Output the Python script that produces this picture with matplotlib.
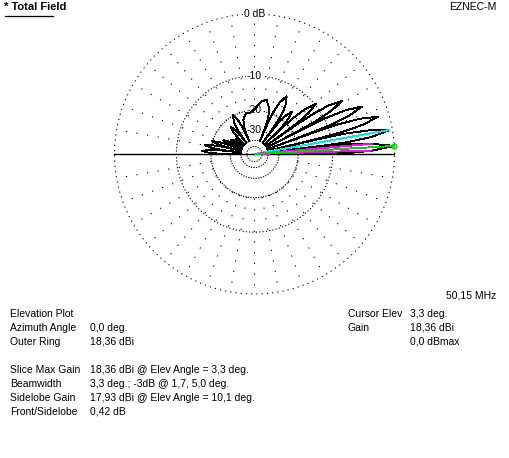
import numpy as np
import matplotlib
matplotlib.use("Agg")
import matplotlib.pyplot as plt
from matplotlib.lines import Line2D

# ---------------- data ----------------
# elevation angle (deg) and gain relative to slice max (dB)
elev_deg = [
    0.0, 0.26, 0.66, 1.65, 3.31, 4.96, 5.96, 6.36,
    6.62, 6.89, 7.29, 8.29, 9.96, 11.64, 12.65, 13.06,
    13.33, 13.60, 14.02, 15.04, 16.75, 18.49, 19.53, 19.96,
    20.24, 20.52, 20.94, 22.01, 23.80, 25.62, 26.72, 27.17,
    27.46, 27.76, 28.21, 29.34, 31.26, 33.21, 34.40, 34.88,
    35.20, 35.53, 36.02, 37.25, 39.36, 41.53, 42.86, 43.41,
    43.77, 44.14, 44.69, 46.11, 48.54, 51.10, 52.71, 53.37,
    53.81, 54.30, 55.20, 57.20, 61.00, 64.00, 65.80, 66.70,
    67.28, 67.98, 69.06, 72.03, 77.50, 82.55, 90.00,
    97.45, 101.46, 107.97, 110.94, 112.02,
    112.72, 113.39, 114.37, 116.20, 119.00, 122.60, 125.05, 125.74,
    126.19, 126.63, 127.29, 128.90, 131.46, 133.89, 135.31, 135.86,
    136.23, 137.14, 138.47, 140.64, 142.75, 143.98,
    144.80, 145.60, 146.79, 148.74, 150.66, 151.79,
    152.54, 152.83, 153.28, 154.38, 156.20, 157.99, 159.06, 159.48,
    159.76, 160.04, 160.47, 161.51, 163.25, 164.96, 165.98, 166.40,
    166.67, 166.94, 167.35, 168.36, 170.04, 171.71, 172.71, 173.11,
    173.38, 173.64, 174.04, 175.04, 176.69, 178.35, 179.34, 179.74,
    180.0,
]
gain_db = [
    -40.0, -12.0, -6.5, -3.0, 0.0, -3.0, -6.5, -12.0,
    -40.0, -12.4, -6.9, -2.9, -0.43, -2.9, -6.9, -12.4,
    -40.0, -13.4, -7.9, -3.9, -1.4, -3.9, -7.9, -13.4,
    -40.0, -15.0, -9.5, -5.5, -3.0, -5.5, -9.5, -15.0,
    -40.0, -17.4, -11.9, -7.9, -5.4, -7.9, -11.9, -17.4,
    -40.0, -21.8, -16.3, -12.3, -9.8, -12.3, -16.3, -21.8,
    -40.0, -27.6, -22.1, -18.1, -15.6, -18.1, -22.1, -27.6,
    -40.0, -24.9, -19.4, -15.4, -12.9, -15.4, -19.4, -24.9,
    -40.0, -27.9, -22.4, -18.4, -15.9, -16.6, -19.6,
    -21.1, -20.7, -23.2, -27.2, -32.7,
    -40.0, -31.7, -26.2, -22.2, -19.7, -22.2, -26.2, -31.7,
    -40.0, -35.3, -29.8, -25.8, -23.3, -25.8, -29.8, -35.3,
    -40.0, -36.5, -32.5, -30.0, -32.5, -36.5,
    -40.0, -34.5, -30.5, -28.0, -30.5, -34.5,
    -40.0, -36.3, -30.8, -26.8, -24.3, -26.8, -30.8, -36.3,
    -40.0, -31.7, -26.2, -22.2, -19.7, -22.2, -26.2, -31.7,
    -40.0, -29.6, -24.1, -20.1, -17.6, -20.1, -24.1, -29.6,
    -40.0, -28.7, -23.2, -19.2, -16.7, -19.2, -23.2, -28.7,
    -40.0,
]

ring_db = [0, -10, -20, -30, -40, -50]
ring_labels = ["0 dB", "-10", "-20", "-30"]
ring_label_db = [0, -10, -20, -30]

cursor_elev = 3.3
cursor_db = 0.0
bw_elev = [1.7, 5.0]
bw_db = -3.0
sidelobe_elev = 10.1
sidelobe_db = 17.93 - 18.36

info_left = [
    ("Elevation Plot", ""),
    ("Azimuth Angle", "0,0 deg."),
    ("Outer Ring", "18,36 dBi"),
    ("", ""),
    ("Slice Max Gain", "18,36 dBi @ Elev Angle = 3,3 deg."),
    ("Beamwidth", "3,3 deg.; -3dB @ 1,7, 5,0 deg."),
    ("Sidelobe Gain", "17,93 dBi @ Elev Angle = 10,1 deg."),
    ("Front/Sidelobe", "0,42 dB"),
]
info_right = [
    ("Cursor Elev", "3,3 deg."),
    ("Gain", "18,36 dBi"),
    ("", "0,0 dBmax"),
]
title_text = "* Total Field"
program_text = "EZNEC-M"
freq_text = "50,15 MHz"

# ---------------- figure ----------------
W, H = 510, 458
FONT = "Liberation Sans"
FS = 7.5
PX = 0.72  # one pixel in points
fig = plt.figure(figsize=(W / 100, H / 100), dpi=100)
fig.patch.set_facecolor("white")

cx, cy, R = 254.5, 154.0, 140.0
ax = fig.add_axes([(cx - R) / W, 1 - (cy + R) / H, 2 * R / W, 2 * R / H],
                  projection="polar")


def fwd(db):
    db = np.asarray(db, dtype=float)
    return 0.89 ** (-db / 2.0)


def inv(r):
    r = np.maximum(np.asarray(r, dtype=float), 1e-12)
    return -2.0 * np.log(r) / np.log(0.89)


ax.set_rscale("function", functions=(fwd, inv))
ax.set_rlim(-200, 0)
ax.set_xticks([])
ax.set_yticks([])
ax.grid(False)
ax.spines["polar"].set_visible(False)
ax.patch.set_alpha(0)

# rings
th = np.linspace(0, 2 * np.pi, 1441)
for db in ring_db:
    if db == 0:
        ls = (0, (1.2, 3.8))
    elif db == -10:
        ls = (0, (1.2, 2.0))
    else:
        ls = (0, (1.2, 1.2))
    ax.plot(th, np.full_like(th, db, dtype=float), color="black", lw=PX * 1.05,
            ls=ls, zorder=1, clip_on=False)

# spokes
for a in range(0, 360, 10):
    t = np.radians(a)
    ax.plot([t, t], [-20, 0], color="black", lw=PX * 1.05, ls=(0, (1.2, 9.0)),
            zorder=1, clip_on=False)

# horizon line
ax.plot([0, 0], [-200, 0], color="black", lw=PX * 1.4, zorder=3, clip_on=False)
ax.plot([np.pi, np.pi], [-200, 0], color="black", lw=PX * 1.4, zorder=3,
        clip_on=False)

# ring labels
for lab, db in zip(ring_labels, ring_label_db):
    ax.text(np.pi / 2, db, lab, ha="center", va="center", fontsize=FS,
            family=FONT, zorder=2,
            bbox=dict(facecolor="white", edgecolor="none", pad=0.4))

# pattern
ax.plot(np.radians(elev_deg), gain_db, color="black", lw=PX * 0.9, zorder=4,
        clip_on=False, antialiased=False)

# sidelobe, beamwidth and cursor lines
ax.plot([np.radians(sidelobe_elev)] * 2, [-200, sidelobe_db], color="#00e8e8",
        lw=PX * 0.9, zorder=5, clip_on=False, antialiased=False)
for e in bw_elev:
    ax.plot([np.radians(e)] * 2, [-200, bw_db], color="#ff00ff", lw=PX * 0.9,
            zorder=5, clip_on=False, antialiased=False)
ax.plot([np.radians(cursor_elev)] * 2, [-200, cursor_db], color="#00d800",
        lw=PX * 0.9, zorder=6, clip_on=False, antialiased=False)
ax.plot([np.radians(cursor_elev)], [cursor_db], marker="o", ms=3.5,
        mfc="none", mec="#00d800", mew=1.0, zorder=7, clip_on=False)


# ---------------- texts ----------------
def ftext(x, y, s, **kw):
    fig.text(x / W, 1 - y / H, s, fontsize=kw.pop("fs", FS), family=FONT,
             va="center", **kw)


ftext(4, 6.5, title_text, ha="left", fontweight="bold", fs=8.0)
fig.add_artist(Line2D([5 / W, 53 / W], [1 - 15.5 / H, 1 - 15.5 / H],
                      color="black", lw=PX * 1.3))
ftext(497, 6.5, program_text, ha="right")
ftext(496, 295, freq_text, ha="right")

y0 = 314
for i, (k, v) in enumerate(info_left):
    y = y0 + 14 * i
    if k:
        ftext(10, y, k, ha="left")
    if v:
        ftext(90, y, v, ha="left")
for i, (k, v) in enumerate(info_right):
    y = y0 + 14 * i
    if k:
        ftext(348, y, k, ha="left")
    if v:
        ftext(410, y, v, ha="left")

fig.savefig("out.png", dpi=100, facecolor="white")
